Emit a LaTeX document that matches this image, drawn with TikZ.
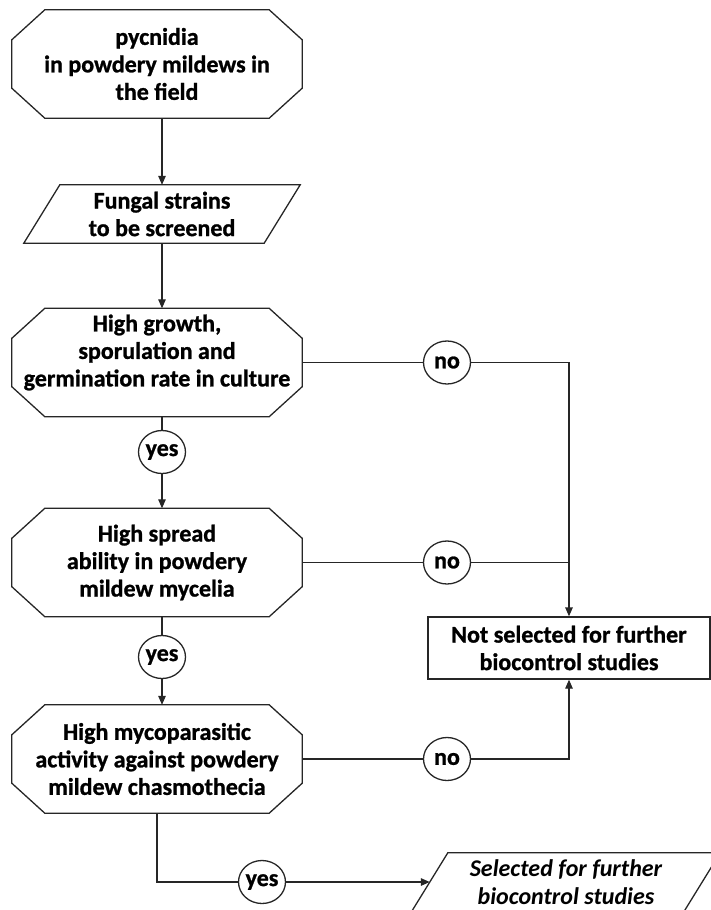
\documentclass[tikz,border=0pt]{standalone}
\usepackage{fontspec}
\setmainfont{Carlito}[BoldFeatures={FakeBold=1}]
\usetikzlibrary{arrows.meta,shapes.geometric}
\newcommand{\octo}[1]{\draw[line] ([xshift=33pt]#1.north west) -- ([xshift=-33pt]#1.north east) -- ([yshift=-30pt]#1.north east) -- ([yshift=30pt]#1.south east) -- ([xshift=-33pt]#1.south east) -- ([xshift=33pt]#1.south west) -- ([yshift=30pt]#1.south west) -- ([yshift=-30pt]#1.north west) -- cycle;}
\newcommand{\paral}[1]{\draw[line] ([xshift=18pt]#1.north west) -- ([xshift=18pt]#1.north east) -- ([xshift=-18pt]#1.south east) -- ([xshift=-18pt]#1.south west) -- cycle;}
\begin{document}
\begin{tikzpicture}[x=1pt,y=-1pt,
  line/.style={line width=1.3pt, draw=black!85},
  arr/.style={line, -{Triangle[length=9pt,width=7.5pt]}},
  txt/.style={font=\bfseries\fontsize{24}{27.5}\selectfont, align=center, inner sep=0pt},
  octa/.style={txt, minimum width=290pt, minimum height=108pt},
  para/.style={txt, minimum height=58pt},
  bub/.style={ellipse, line, minimum width=47pt, minimum height=43pt, inner sep=0pt, font=\bfseries\fontsize{24}{26}\selectfont}
]
\clip (0,0) rectangle (711,910);
% shapes
\node[octa] (o1) at (157,64) {pycnidia\\in powdery mildews in\\the field};
\octo{o1}
\node[para, minimum width=240pt] (p1) at (162,214) {Fungal strains\\to be screened};
\paral{p1}
\node[octa] (o2) at (157,362.5) {};
\octo{o2}
\node[txt] (t2) at (157,352.5) {High growth,\\sporulation and\\germination rate in culture};
\node[octa] (o3) at (157,562.5) {High spread\\ability in powdery\\mildew mycelia};
\octo{o3}
\node[octa] (o4) at (157,759) {High mycoparasitic\\activity against powdery\\mildew chasmothecia};
\octo{o4}
\node[txt, line, minimum width=282pt, minimum height=62pt] (ns) at (569,648) {Not selected for further\\biocontrol studies};
\node[para, minimum width=272pt, font=\bfseries\itshape\fontsize{24}{27.5}\selectfont] (p2) at (566,882) {Selected for further\\biocontrol studies};
\paral{p2}
% bubbles
\node[bub] (y1) at (162,452) {yes};
\node[bub] (y2) at (162,657) {yes};
\node[bub] (y3) at (262,882) {yes};
\node[bub] (n1) at (447,362.5) {no};
\node[bub] (n2) at (447,562.5) {no};
\node[bub] (n3) at (447,759) {no};
% connectors
\draw[arr] (p1.north |- o1.south) -- (p1.north);
\draw[arr] (p1.south) -- (p1.south |- o2.north);
\draw[line] (y1 |- o2.south) -- (y1.north);
\draw[arr] (y1.south) -- (y1 |- o3.north);
\draw[line] (y2 |- o3.south) -- (y2.north);
\draw[arr] (y2.south) -- (y2 |- o4.north);
\draw[line] (o2.east) -- (n1.west);
\draw[arr] (n1.east) -| (ns.north);
\draw[line] (o3.east) -- (n2.west);
\draw[line] (n2.east) -- (n2 -| ns.north);
\draw[line] (o4.east) -- (n3.west);
\draw[arr] (n3.east) -| (ns.south);
\draw[line] (o4.south) |- (y3.west);
\draw[arr] (y3.east) -- (p2.west);
\end{tikzpicture}
\end{document}
